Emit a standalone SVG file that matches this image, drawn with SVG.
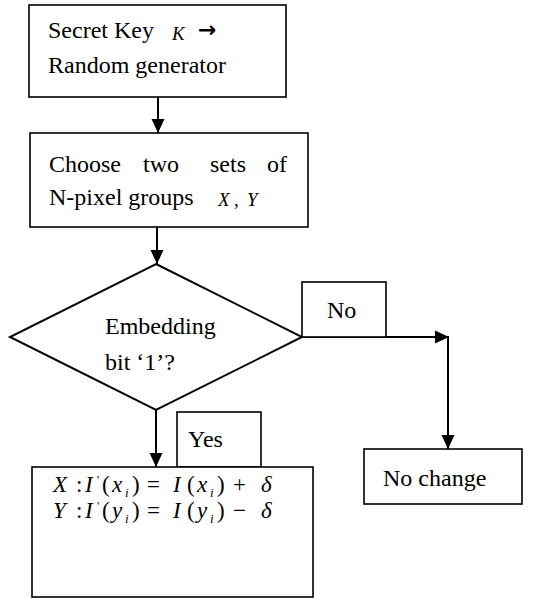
<svg xmlns="http://www.w3.org/2000/svg" width="534" height="599" viewBox="0 0 534 599">
  <style>
    .box { fill: #fff; stroke: #000; stroke-width: 1.6; }
    .dia { fill: #fff; stroke: #000; stroke-width: 2; stroke-linejoin: miter; }
    .wire { fill: none; stroke: #000; stroke-width: 2; }
    text { font-family: 'Liberation Serif', 'DejaVu Serif', serif; fill: #000; }
    .t { font-size: 24px; }
    .m { font-size: 23px; font-style: italic; }
    .up { font-size: 23px; }
    .sub { font-size: 13px; font-style: italic; }
  </style>
  <defs>
    <marker id="head" markerUnits="userSpaceOnUse" markerWidth="16" markerHeight="16" viewBox="0 0 16 16" refX="15" refY="7" orient="auto">
      <path d="M1,0.5 L15,7 L1,13.5 Z" fill="#000"/>
    </marker>
  </defs>

  <!-- connectors -->
  <g id="connectors">
    <line class="wire" x1="158" y1="97" x2="158" y2="133" marker-end="url(#head)"/>
    <line class="wire" x1="157" y1="227" x2="157" y2="264" marker-end="url(#head)"/>
    <line class="wire" x1="302" y1="337" x2="449" y2="337" marker-end="url(#head)"/>
    <line class="wire" x1="448" y1="337" x2="448" y2="449" marker-end="url(#head)"/>
    <line class="wire" x1="156" y1="410" x2="156" y2="467" marker-end="url(#head)"/>
  </g>

  <!-- key / random generator -->
  <g id="keygen" font-family="Liberation Serif, serif">
    <rect class="box" x="29" y="5" width="257" height="92"/>
    <text class="t" x="48" y="38">Secret Key</text>
    <text class="m" x="172" y="40" style="font-size:19px">K</text>
    <text x="198" y="37" style="font-family:'DejaVu Sans',sans-serif;font-size:22px;font-weight:bold">→</text>
    <text class="t" x="48" y="73">Random generator</text>
  </g>

  <!-- choose pixel groups -->
  <g id="choose" font-family="Liberation Serif, serif">
    <rect class="box" x="30" y="133" width="278" height="94"/>
    <text class="t" y="172"><tspan x="49">Choose</tspan><tspan x="143">two</tspan><tspan x="210">sets</tspan><tspan x="267">of</tspan></text>
    <text class="t" x="49" y="205">N-pixel groups</text>
    <text class="m" x="218" y="206" style="font-size:19px">X</text>
    <text class="up" x="234" y="206" style="font-size:19px">,</text>
    <text class="m" x="247" y="206" style="font-size:19px">Y</text>
  </g>

  <!-- decision -->
  <g id="decision" font-family="Liberation Serif, serif">
    <polygon class="dia" points="156,264 302,337 156,410 10,337"/>
    <text class="t" x="105" y="334">Embedding</text>
    <text class="t" x="105" y="370">bit ‘1’?</text>
  </g>

  <!-- branch labels -->
  <g id="label-no" font-family="Liberation Serif, serif">
    <rect class="box" x="302" y="282" width="84" height="55"/>
    <text class="t" x="327" y="318">No</text>
  </g>
  <g id="label-yes" font-family="Liberation Serif, serif">
    <rect class="box" x="177" y="412" width="84" height="55"/>
    <text class="t" x="188" y="447">Yes</text>
  </g>

  <!-- embedding update -->
  <g id="embed" font-family="Liberation Serif, serif">
    <rect class="box" x="32" y="467" width="281" height="130"/>
    <text y="492">
      <tspan class="m" x="53">X</tspan>
      <tspan class="up" x="76">:</tspan>
      <tspan class="m" x="85">I</tspan>
      <tspan class="up" x="97" dy="-8" style="font-size:12px">'</tspan>
      <tspan class="up" x="102" dy="8">(</tspan>
      <tspan class="m" x="112">x</tspan>
      <tspan class="sub" x="125" dy="5">i</tspan>
      <tspan class="up" x="132" dy="-5">)</tspan>
      <tspan class="up" x="147">=</tspan>
      <tspan class="m" x="173">I</tspan>
      <tspan class="up" x="187">(</tspan>
      <tspan class="m" x="197">x</tspan>
      <tspan class="sub" x="210" dy="5">i</tspan>
      <tspan class="up" x="217" dy="-5">)</tspan>
      <tspan class="up" x="233">+</tspan>
      <tspan class="m" x="261">δ</tspan>
    </text>
    <text y="518">
      <tspan class="m" x="53">Y</tspan>
      <tspan class="up" x="76">:</tspan>
      <tspan class="m" x="85">I</tspan>
      <tspan class="up" x="97" dy="-8" style="font-size:12px">'</tspan>
      <tspan class="up" x="102" dy="8">(</tspan>
      <tspan class="m" x="112">y</tspan>
      <tspan class="sub" x="125" dy="5">i</tspan>
      <tspan class="up" x="132" dy="-5">)</tspan>
      <tspan class="up" x="147">=</tspan>
      <tspan class="m" x="173">I</tspan>
      <tspan class="up" x="187">(</tspan>
      <tspan class="m" x="197">y</tspan>
      <tspan class="sub" x="210" dy="5">i</tspan>
      <tspan class="up" x="217" dy="-5">)</tspan>
      <tspan class="up" x="233">−</tspan>
      <tspan class="m" x="261">δ</tspan>
    </text>
  </g>

  <!-- no change -->
  <g id="nochange" font-family="Liberation Serif, serif">
    <rect class="box" x="364" y="449" width="158" height="55"/>
    <text class="t" x="383" y="486">No change</text>
  </g>
</svg>
